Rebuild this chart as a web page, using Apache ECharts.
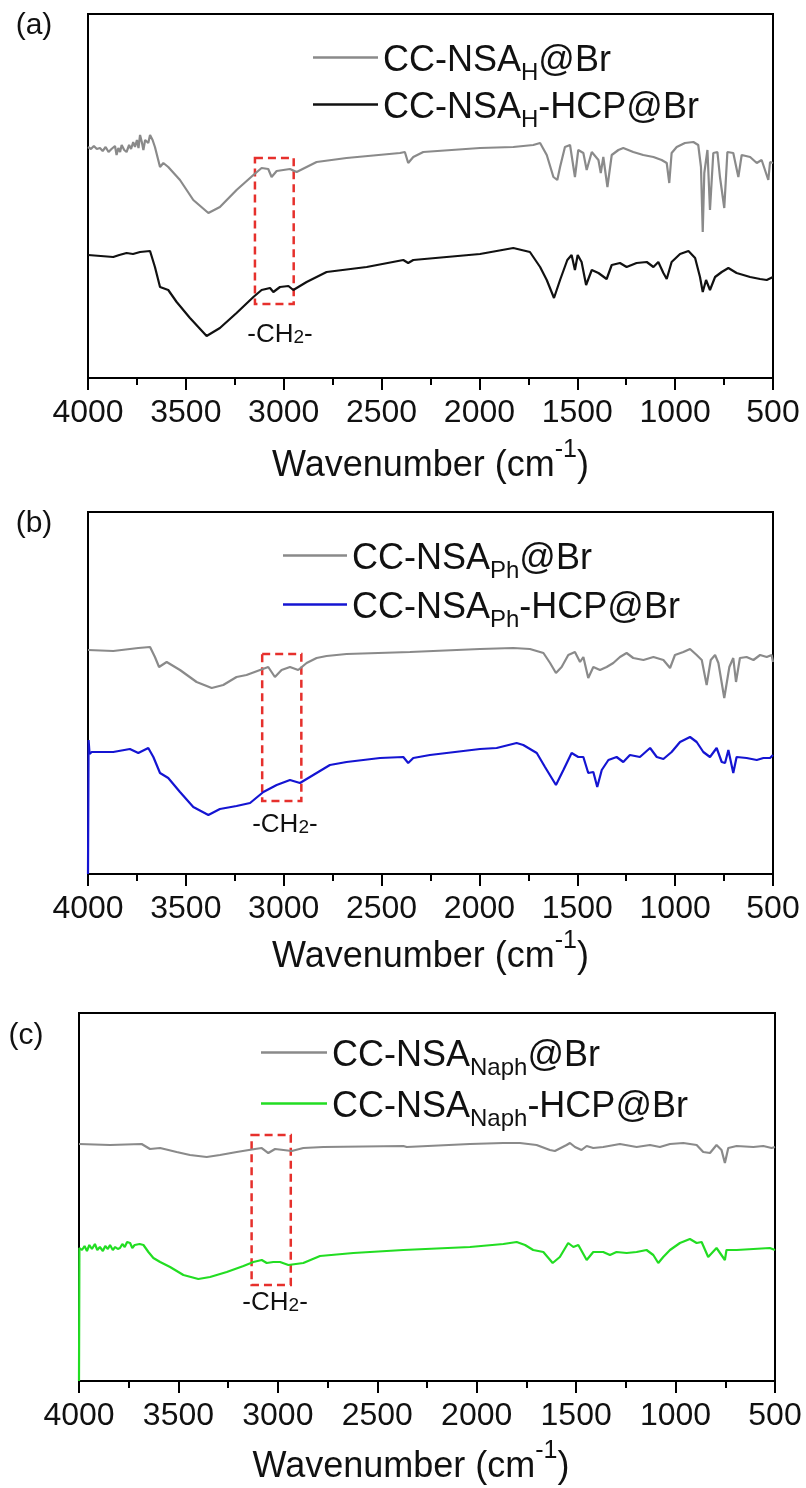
<!DOCTYPE html>
<html>
<head>
<meta charset="utf-8">
<script src="https://cdn.jsdelivr.net/npm/echarts@6/dist/echarts.min.js"></script>
<style>
  html, body { margin: 0; padding: 0; background: #ffffff; }
  #chart { width: 806px; height: 1488px; }
</style>
</head>
<body>
<div id="chart"></div>
<script>
// FT-IR spectra of the brominated carbon-cloth samples before and after hyper-crosslinking.
// Each spectrum: [wavenumber (cm-1), offset intensity (a.u.)].

const nsaH_Br = [[4000,231],[3985,229],[3970,232],[3955,229],[3939,230],[3925,227],[3910,231],[3895,226],[3880,229],[3871,228],[3862,232],[3854,223],[3845,230],[3836,226],[3828,233],[3815,228],[3803,226],[3790,233],[3780,229],[3769,236],[3760,231],[3750,238],[3742,230],[3734,243],[3725,236],[3717,228],[3708,238],[3700,240],[3692,235],[3683,243],[3670,238],[3658,231],[3632,211],[3615,215],[3590,211],[3530,198],[3462,178],[3385,165],[3326,171],[3241,188],[3155,203],[3113,210],[3079,209],[3062,201],[3036,207],[3002,208],[2968,209],[2934,206],[2883,211],[2832,216],[2679,220],[2406,225],[2381,226],[2364,215],[2338,221],[2287,226],[1997,230],[1827,231],[1725,233],[1690,235],[1656,223],[1622,201],[1602,198],[1588,211],[1563,231],[1537,233],[1512,201],[1495,228],[1469,225],[1452,208],[1426,226],[1392,218],[1380,205],[1367,221],[1346,191],[1324,223],[1290,228],[1265,230],[1214,226],[1163,223],[1111,221],[1069,218],[1043,215],[1030,195],[1018,225],[992,231],[950,235],[907,236],[882,233],[868,211],[859,146],[851,205],[835,228],[822,168],[805,225],[784,226],[771,201],[749,170],[733,226],[703,225],[677,201],[660,223],[617,221],[583,215],[558,218],[524,198],[515,216],[500,215]];

const nsaH_HCP = [[4000,123],[3935,122],[3871,121],[3840,123],[3803,125],[3770,124],[3734,126],[3683,127],[3658,111],[3632,91],[3590,88],[3547,76],[3479,60],[3394,42],[3326,50],[3241,65],[3155,81],[3113,88],[3070,90],[3053,86],[3019,91],[2976,92],[2951,88],[2883,96],[2781,106],[2576,111],[2389,118],[2364,115],[2338,118],[1997,124],[1827,130],[1742,126],[1690,111],[1656,98],[1619,80],[1588,98],[1551,118],[1529,123],[1512,108],[1498,123],[1478,116],[1455,93],[1426,108],[1392,105],[1350,99],[1324,113],[1282,115],[1248,111],[1197,115],[1145,116],[1111,111],[1086,116],[1060,105],[1043,99],[1018,116],[975,124],[932,127],[898,120],[873,101],[859,86],[842,98],[822,88],[796,101],[762,106],[728,110],[686,105],[617,101],[566,99],[532,98],[500,101]];

const nsaPh_Br = [[4000,224],[3871,223],[3743,226],[3683,227],[3658,217],[3637,207],[3598,212],[3530,204],[3445,192],[3368,186],[3309,189],[3241,197],[3190,199],[3121,204],[3079,207],[3045,197],[3011,204],[2968,207],[2926,204],[2883,211],[2832,216],[2781,218],[2679,220],[2355,222],[1997,225],[1827,226],[1742,225],[1673,221],[1639,211],[1609,201],[1580,207],[1546,219],[1512,222],[1486,212],[1469,217],[1444,196],[1418,207],[1384,204],[1350,207],[1316,211],[1282,217],[1248,221],[1214,216],[1162,214],[1111,217],[1060,214],[1026,206],[1001,219],[958,222],[924,225],[890,219],[864,214],[839,189],[818,214],[796,219],[779,211],[749,176],[723,207],[703,216],[689,192],[669,216],[635,217],[600,214],[566,219],[532,217],[507,219],[500,212]];

const nsaPh_HCP = [[4000,0],[3997,134],[3992,120],[3981,122],[3871,122],[3786,125],[3743,121],[3692,126],[3666,117],[3632,101],[3590,96],[3530,82],[3462,67],[3385,59],[3326,65],[3241,68],[3172,71],[3104,82],[3036,89],[2968,94],[2917,91],[2849,99],[2764,109],[2679,112],[2508,116],[2389,117],[2364,111],[2338,116],[2253,119],[1997,125],[1912,126],[1810,131],[1776,129],[1707,121],[1665,107],[1609,89],[1571,104],[1529,121],[1495,117],[1469,117],[1444,101],[1418,102],[1398,87],[1375,104],[1341,114],[1299,117],[1265,112],[1231,119],[1180,117],[1128,126],[1094,117],[1060,115],[1018,122],[975,132],[924,137],[890,132],[856,122],[822,117],[788,126],[762,112],[745,111],[728,124],[703,101],[686,117],[635,116],[583,114],[549,116],[515,116],[500,119]];

const nsaNaph_Br = [[4000,237],[3844,236],[3685,237],[3643,232],[3592,233],[3509,229],[3442,226],[3358,224],[3291,226],[3207,229],[3115,232],[3081,233],[3048,228],[3014,232],[2972,231],[2930,230],[2872,233],[2771,234],[2369,235],[2352,234],[2034,237],[1866,238],[1783,238],[1699,236],[1632,231],[1607,230],[1548,236],[1531,238],[1506,234],[1473,231],[1447,235],[1414,233],[1364,234],[1280,237],[1196,234],[1129,236],[1079,234],[1028,237],[961,238],[894,236],[861,229],[827,228],[794,236],[769,231],[752,218],[735,233],[693,235],[609,234],[559,235],[517,233],[500,234]];

const nsaNaph_HCP = [[4000,0],[3998,133],[3985,131],[3972,135],[3960,130],[3948,136],[3935,132],[3920,137],[3908,131],[3895,134],[3880,130],[3868,135],[3855,132],[3844,136],[3830,131],[3818,134],[3805,132],[3794,133],[3782,137],[3770,134],[3758,139],[3743,138],[3732,133],[3720,136],[3710,134],[3695,137],[3676,136],[3651,129],[3626,123],[3592,119],[3542,114],[3475,106],[3400,102],[3341,104],[3257,109],[3173,115],[3123,119],[3081,121],[3056,118],[3023,119],[2989,119],[2947,116],[2872,118],[2788,125],[2620,128],[2369,131],[2034,134],[1866,137],[1799,139],[1757,136],[1716,131],[1665,129],[1618,118],[1582,124],[1540,138],[1514,134],[1489,136],[1447,121],[1414,129],[1364,129],[1330,126],[1297,129],[1246,128],[1196,129],[1146,131],[1112,126],[1087,118],[1062,124],[1028,131],[978,138],[928,142],[894,138],[869,139],[836,124],[794,133],[752,121],[744,131],[693,131],[609,132],[526,133],[500,131]];

// -CH2- stretching window [from, to] in cm-1 for each panel
const ch2WindowA = [3147, 2949];
const ch2WindowB = [3110, 2910];
const ch2WindowC = [3132, 2935];

const FONT = '"Liberation Sans", Arial, Helvetica, sans-serif';
const INK = '#111111';

const panels = [
  { letter: '(a)', letterPos: [34, 26],
    grid: { left: 88, top: 14, width: 685, height: 364 }, ymax: 364,
    series: [
      { name: 'CC-NSA_H@Br', data: nsaH_Br, color: '#8a8a8a' },
      { name: 'CC-NSA_H-HCP@Br', data: nsaH_HCP, color: '#111111' }
    ],
    window: ch2WindowA, box: [220, 74], ch2: [3019, 43],
    legendLeft: 313, legendRows: [62, 109], iconW: 65, nameGap: 60, nameShift: 0 },
  { letter: '(b)', letterPos: [34, 524],
    grid: { left: 88, top: 512, width: 685, height: 362 }, ymax: 362,
    series: [
      { name: 'CC-NSA_Ph@Br', data: nsaPh_Br, color: '#8a8a8a' },
      { name: 'CC-NSA_Ph-HCP@Br', data: nsaPh_HCP, color: '#1414d2' }
    ],
    window: ch2WindowB, box: [220, 73], ch2: [2994, 49],
    legendLeft: 283, legendRows: [560, 609], iconW: 64, nameGap: 55, nameShift: 0 },
  { letter: '(c)', letterPos: [26, 1036],
    grid: { left: 79, top: 1013, width: 696, height: 368 }, ymax: 368,
    series: [
      { name: 'CC-NSA_Naph@Br', data: nsaNaph_Br, color: '#8a8a8a' },
      { name: 'CC-NSA_Naph-HCP@Br', data: nsaNaph_HCP, color: '#22dd22' }
    ],
    window: ch2WindowC, box: [246, 96], ch2: [3014, 78],
    legendLeft: 261, legendRows: [1057, 1108], iconW: 66, nameGap: 58, nameShift: 32 }
];

// legend name "CC-NSA_X..." -> rich text with subscript X
function legendRich(name) {
  const m = name.match(/^CC-NSA_([A-Za-z]+)(.*)$/);
  return '{m|CC-NSA}{s|' + m[1] + '}{m|' + m[2] + '}';
}

const legendTextRich = {
  m: { fontFamily: FONT, fontSize: 36, lineHeight: 37, padding: [4, 0, 4, 0], verticalAlign: 'top', color: INK },
  s: { fontFamily: FONT, fontSize: 24, lineHeight: 24, padding: [22, 0, 0, 0], verticalAlign: 'top', color: INK }
};

const option = {
  animation: false,
  backgroundColor: '#ffffff',
  textStyle: { fontFamily: FONT },
  grid: panels.map(p => Object.assign({ show: true, borderColor: '#000', borderWidth: 2, backgroundColor: 'transparent' }, p.grid)),
  xAxis: panels.map((p, i) => ({
    gridIndex: i, type: 'value', min: 500, max: 4000, interval: 500, inverse: true,
    axisLine: { show: true, lineStyle: { color: '#000', width: 2 } },
    axisTick: { show: true, length: 12, lineStyle: { color: '#000', width: 2 } },
    minorTick: { show: true, splitNumber: 2, length: 7, lineStyle: { color: '#000', width: 2 } },
    splitLine: { show: false },
    axisLabel: { fontSize: 32, margin: 19, color: INK, fontFamily: FONT, formatter: v => String(v) },
    name: '{m|Wavenumber (cm}{sup|-1}{m|)}',
    nameLocation: 'middle', nameGap: p.nameGap,
    nameTextStyle: {
      padding: [0, p.nameShift, 0, 0],
      rich: {
        m: { fontFamily: FONT, fontSize: 36, lineHeight: 37, padding: [10, 0, 0, 0], verticalAlign: 'top', color: INK },
        sup: { fontFamily: FONT, fontSize: 25, lineHeight: 27, verticalAlign: 'top', color: INK }
      }
    }
  })),
  yAxis: panels.map((p, i) => ({
    gridIndex: i, type: 'value', min: 0, max: p.ymax,
    axisLine: { show: true, lineStyle: { color: '#000', width: 2 } },
    axisTick: { show: false }, axisLabel: { show: false }, splitLine: { show: false }
  })),
  legend: [],
  series: [],
  graphic: panels.map(p => ({
    type: 'text', x: p.letterPos[0], y: p.letterPos[1],
    style: { text: p.letter, fontFamily: FONT, fontSize: 30, fill: INK, align: 'center', verticalAlign: 'middle' }
  }))
};

panels.forEach((p, i) => {
  p.series.forEach((s, k) => {
    const entry = {
      name: s.name, type: 'line', xAxisIndex: i, yAxisIndex: i,
      data: s.data, symbol: 'none', showSymbol: false, smooth: false,
      color: s.color,
      lineStyle: { color: s.color, width: 2.2 },
      z: 2 + k
    };
    if (k === 0) {
      entry.markArea = {
        silent: true,
        itemStyle: { color: 'rgba(0,0,0,0)', borderColor: '#e6302c', borderWidth: 2.5, borderType: [8, 5] },
        data: [[{ xAxis: p.window[0], yAxis: p.box[0] }, { xAxis: p.window[1], yAxis: p.box[1] }]]
      };
      entry.markPoint = {
        silent: true, symbol: 'circle', symbolSize: 0,
        label: {
          show: true, position: 'inside',
          formatter: '{m|-CH}{d|2}{m|-}',
          rich: {
            m: { fontFamily: FONT, fontSize: 26, lineHeight: 27, verticalAlign: 'top', color: INK },
            d: { fontFamily: FONT, fontSize: 19, lineHeight: 19, padding: [7, 0, 0, 0], verticalAlign: 'top', color: INK }
          }
        },
        data: [{ coord: p.ch2, value: '' }]
      };
    }
    option.series.push(entry);
    option.legend.push({
      data: [s.name], selectedMode: false, orient: 'horizontal',
      left: p.legendLeft, top: p.legendRows[k] - 23, padding: 0,
      icon: 'rect', itemWidth: p.iconW, itemHeight: 2.5,
      itemStyle: { color: s.color, borderWidth: 0 },
      formatter: legendRich,
      textStyle: { rich: legendTextRich }
    });
  });
});

const chart = echarts.init(document.getElementById('chart'), null, { renderer: 'canvas' });
chart.setOption(option);
</script>
</body>
</html>
